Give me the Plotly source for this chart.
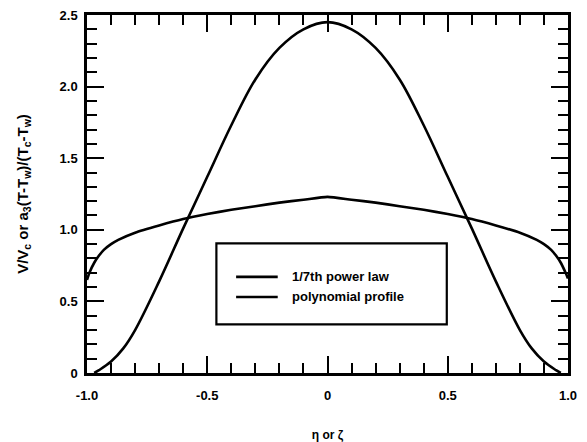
import plotly.graph_objects as go

# ---- data ----
power_x = [-1.0, -0.99, -0.97, -0.95, -0.93, -0.90, -0.87, -0.80, -0.70, -0.60, -0.50, -0.40, -0.30, -0.20, -0.10, 0.0,
           0.10, 0.20, 0.30, 0.40, 0.50, 0.60, 0.70, 0.80, 0.87, 0.90, 0.93, 0.95, 0.97, 0.99, 1.0]
power_y = [0.65, 0.70, 0.77, 0.82, 0.86, 0.90, 0.93, 0.98, 1.03, 1.075, 1.11, 1.14, 1.165, 1.19, 1.21, 1.23,
           1.21, 1.19, 1.165, 1.14, 1.11, 1.075, 1.03, 0.98, 0.93, 0.90, 0.86, 0.82, 0.77, 0.70, 0.66]

poly_x = [-0.97, -0.95, -0.90, -0.85, -0.80, -0.70, -0.60, -0.50, -0.40, -0.30, -0.20, -0.10, 0.0,
          0.10, 0.20, 0.30, 0.40, 0.50, 0.60, 0.70, 0.80, 0.85, 0.90, 0.95, 0.97]
poly_y = [0.0, 0.02, 0.08, 0.17, 0.30, 0.64, 1.01, 1.37, 1.73, 2.05, 2.27, 2.40, 2.45,
          2.40, 2.27, 2.05, 1.73, 1.37, 1.01, 0.64, 0.30, 0.17, 0.08, 0.02, 0.0]

series_names = ["1/7th power law", "polynomial profile"]
x_tickvals = [-1.0, -0.5, 0.0, 0.5, 1.0]
x_ticktext = ["-1.0", "-0.5", "0", "0.5", "1.0"]
y_tickvals = [0.0, 0.5, 1.0, 1.5, 2.0, 2.5]
y_ticktext = ["0", "0.5", "1.0", "1.5", "2.0", "2.5"]

FONT = "Liberation Sans"
BLACK = "#000000"

fig = go.Figure()
fig.add_trace(go.Scatter(x=power_x, y=power_y, mode="lines", name=series_names[0],
                         line=dict(color=BLACK, width=2.6, shape="spline", smoothing=0.6), showlegend=False))
fig.add_trace(go.Scatter(x=poly_x, y=poly_y, mode="lines", name=series_names[1],
                         line=dict(color=BLACK, width=2.6, shape="spline", smoothing=1.0), showlegend=False))

# manual legend (box, sample lines, labels)
fig.add_shape(type="rect", xref="x", yref="y", x0=-0.462, x1=0.496, y0=0.339, y1=0.905,
              line=dict(color=BLACK, width=2.2), fillcolor="white", layer="above")
legend_rows = [0.671, 0.531]
for name, yy in zip(series_names, legend_rows):
    fig.add_shape(type="line", xref="x", yref="y", x0=-0.380, x1=-0.207, y0=yy, y1=yy,
                  line=dict(color=BLACK, width=2.6), layer="above")
    fig.add_annotation(x=-0.155, y=yy, xref="x", yref="y", text=name, showarrow=False,
                       xanchor="left", yanchor="middle",
                       font=dict(family=FONT, size=13, color=BLACK, weight="bold"))

axis_common = dict(
    showline=True, linecolor=BLACK, linewidth=2.5, mirror="ticks",
    ticks="inside", ticklen=17, tickwidth=2.2, tickcolor=BLACK,
    showgrid=False, zeroline=False, automargin=False,
    tickfont=dict(family=FONT, size=13, color=BLACK, weight="bold"),
)

fig.update_xaxes(range=[-1.0, 1.0], tickvals=x_tickvals, ticktext=x_ticktext,
                 ticklabelstandoff=9,
                 minor=dict(ticks="inside", dtick=0.1, ticklen=10, tickwidth=2.2, tickcolor=BLACK, showgrid=False),
                 title=dict(text="η or ζ", standoff=32,
                            font=dict(family=FONT, size=12, color=BLACK, weight="bold")),
                 **axis_common)
fig.update_yaxes(range=[0.0, 2.5], tickvals=y_tickvals, ticktext=y_ticktext,
                 ticklabelstandoff=4,
                 minor=dict(ticks="inside", dtick=0.1, ticklen=10, tickwidth=2.2, tickcolor=BLACK, showgrid=False),
                 title=dict(text="V/V<sub>c</sub> or a<sub>3</sub>(T-T<sub>w</sub>)/(T<sub>c</sub>-T<sub>w</sub>)",
                            standoff=28,
                            font=dict(family=FONT, size=15, color=BLACK, weight="bold")),
                 **axis_common)

fig.update_layout(
    width=587, height=442,
    margin=dict(l=87, r=19, t=15, b=69),
    paper_bgcolor="white", plot_bgcolor="white",
    font=dict(family=FONT, color=BLACK),
    showlegend=False,
)

fig.write_html("out.html", config={"displayModeBar": False},
               post_script="document.body.style.margin='0';document.body.style.overflow='hidden';")
